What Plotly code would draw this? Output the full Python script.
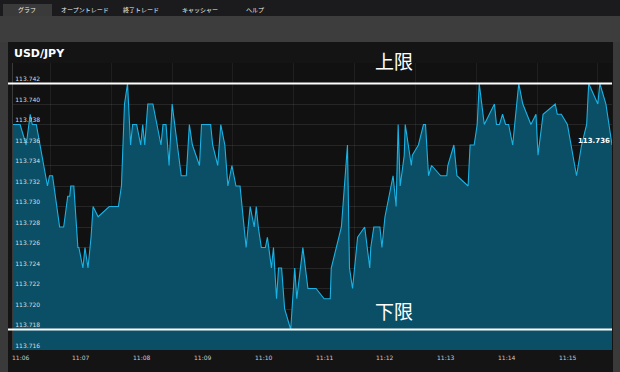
import plotly.graph_objects as go

DATE = "2024-01-01 "
times = [
    "11:05:53", "11:06:00", "11:06:06", "11:06:10", "11:06:12", "11:06:16", "11:06:27", "11:06:29",
    "11:06:32", "11:06:39", "11:06:43", "11:06:47", "11:06:49", "11:06:50", "11:06:53", "11:06:57",
    "11:06:58", "11:07:02", "11:07:04", "11:07:07", "11:07:10", "11:07:12", "11:07:17", "11:07:28",
    "11:07:37", "11:07:40", "11:07:43", "11:07:46", "11:07:49", "11:07:51", "11:07:55", "11:07:59",
    "11:08:01", "11:08:03", "11:08:06", "11:08:11", "11:08:19", "11:08:21", "11:08:24", "11:08:27",
    "11:08:30", "11:08:35", "11:08:39", "11:08:44", "11:08:47", "11:08:50", "11:08:57", "11:08:59",
    "11:09:08", "11:09:10", "11:09:15", "11:09:18", "11:09:22", "11:09:25", "11:09:29", "11:09:33",
    "11:09:37", "11:09:43", "11:09:47", "11:09:51", "11:09:53", "11:09:55", "11:09:58", "11:10:02",
    "11:10:04", "11:10:08", "11:10:10", "11:10:13", "11:10:15", "11:10:18", "11:10:21", "11:10:27",
    "11:10:31", "11:10:33", "11:10:39", "11:10:44", "11:10:52", "11:11:00", "11:11:06", "11:11:07",
    "11:11:17", "11:11:23", "11:11:25", "11:11:28", "11:11:33", "11:11:40", "11:11:45", "11:11:46",
    "11:11:49", "11:11:55", "11:11:57", "11:12:00", "11:12:08", "11:12:11", "11:12:13", "11:12:15",
    "11:12:19", "11:12:20", "11:12:26", "11:12:27", "11:12:33", "11:12:38", "11:12:40", "11:12:43",
    "11:12:46", "11:12:55", "11:13:01", "11:13:02", "11:13:08", "11:13:11", "11:13:22", "11:13:24",
    "11:13:28", "11:13:31", "11:13:33", "11:13:38", "11:13:48", "11:13:50", "11:13:53", "11:13:56",
    "11:13:59", "11:14:02", "11:14:06", "11:14:12", "11:14:16", "11:14:24", "11:14:29", "11:14:31",
    "11:14:36", "11:14:48", "11:14:50", "11:14:54", "11:15:00", "11:15:09", "11:15:14", "11:15:19",
    "11:15:21", "11:15:30", "11:15:32", "11:15:38", "11:15:44",
]
prices = [
    113.738, 113.738, 113.736, 113.739, 113.738, 113.738, 113.732, 113.733,
    113.733, 113.728, 113.728, 113.731, 113.731, 113.732, 113.732, 113.726,
    113.726, 113.724, 113.726, 113.724, 113.727, 113.730, 113.729, 113.730,
    113.730, 113.732, 113.740, 113.742, 113.736, 113.738, 113.738, 113.736,
    113.738, 113.736, 113.740, 113.740, 113.736, 113.738, 113.738, 113.734,
    113.740, 113.736, 113.733, 113.733, 113.738, 113.736, 113.734, 113.738,
    113.738, 113.736, 113.734, 113.738, 113.736, 113.732, 113.734, 113.732,
    113.732, 113.726, 113.730, 113.728, 113.730, 113.728, 113.726, 113.726,
    113.727, 113.724, 113.726, 113.721, 113.724, 113.724, 113.720, 113.718,
    113.724, 113.721, 113.726, 113.722, 113.722, 113.721, 113.721, 113.724,
    113.728, 113.736, 113.724, 113.722, 113.727, 113.728, 113.724, 113.726,
    113.728, 113.728, 113.726, 113.729, 113.733, 113.730, 113.738, 113.732,
    113.735, 113.738, 113.734, 113.735, 113.736, 113.738, 113.738, 113.733,
    113.734, 113.733, 113.733, 113.734, 113.736, 113.733, 113.732, 113.736,
    113.736, 113.738, 113.742, 113.738, 113.740, 113.738, 113.738, 113.739,
    113.738, 113.738, 113.736, 113.742, 113.740, 113.738, 113.739, 113.735,
    113.739, 113.740, 113.739, 113.739, 113.738, 113.733, 113.736, 113.738,
    113.742, 113.740, 113.742, 113.740, 113.736,
]
y_ticks = [113.716, 113.718, 113.720, 113.722, 113.724, 113.726, 113.728,
           113.730, 113.732, 113.734, 113.736, 113.738, 113.740, 113.742]
x_ticks = ["11:06", "11:07", "11:08", "11:09", "11:10", "11:11", "11:12", "11:13", "11:14", "11:15"]
x_grid = ["11:05:30", "11:06:30", "11:07:30", "11:08:30", "11:09:30", "11:10:30",
          "11:11:30", "11:12:30", "11:13:30", "11:14:30", "11:15:30"]
UPPER_LIMIT = 113.742
LOWER_LIMIT = 113.718
pair = "USD/JPY"
menu = ["グラフ", "オープントレード", "終了トレード", "キャッシャー", "ヘルプ"]

W, H = 620, 372
L, R, T, B = 13, 8, 63, 22
PW, PH = W - L - R, H - T - B


def px(x):
    return (x - L) / PW


def py(y):
    return (H - B - y) / PH


xs = [DATE + t for t in times]
fig = go.Figure()
fig.add_trace(go.Scatter(
    x=xs, y=prices, mode="lines", fill="tozeroy",
    line=dict(color="#1ab2e4", width=1.1), fillcolor="#0a4f66",
    hoverinfo="skip", showlegend=False,
))

shapes = []
# page chrome
shapes.append(dict(type="rect", xref="paper", yref="paper", x0=px(0), x1=px(W), y0=py(16), y1=py(0),
                   fillcolor="#1b1b1d", line=dict(width=0), layer="below"))
shapes.append(dict(type="rect", xref="paper", yref="paper", x0=px(3), x1=px(52), y0=py(16), y1=py(4),
                   fillcolor="#3a3a3a", line=dict(width=0), layer="below"))
shapes.append(dict(type="rect", xref="paper", yref="paper", x0=px(0), x1=px(W), y0=py(42), y1=py(16),
                   fillcolor="#3d3d3d", line=dict(width=0), layer="below"))
shapes.append(dict(type="rect", xref="paper", yref="paper", x0=px(0), x1=px(8), y0=py(H), y1=py(42),
                   fillcolor="#3a3a3a", line=dict(width=0), layer="below"))
shapes.append(dict(type="rect", xref="paper", yref="paper", x0=px(613), x1=px(W), y0=py(H), y1=py(42),
                   fillcolor="#3a3a3a", line=dict(width=0), layer="below"))
# limit lines
for v in (UPPER_LIMIT, LOWER_LIMIT):
    shapes.append(dict(type="line", xref="paper", yref="y", x0=px(8), x1=1.0, y0=v, y1=v,
                       line=dict(color="#ffffff", width=2), layer="above"))

annotations = []
menu_x = [27, 85, 141, 200, 255]
for label, mx in zip(menu, menu_x):
    annotations.append(dict(text=label, xref="paper", yref="paper", x=px(mx), y=py(10),
                            showarrow=False, xanchor="center", yanchor="middle",
                            font=dict(family="Noto Sans CJK JP", size=6, color="#eeeeee")))
annotations.append(dict(text="<b>" + pair + "</b>", xref="paper", yref="paper", x=px(12), y=py(53),
                        showarrow=False, xanchor="left", yanchor="middle",
                        font=dict(family="DejaVu Sans", size=11, color="#ffffff")))
annotations.append(dict(text="上限", xref="paper", yref="y", x=px(394), y=UPPER_LIMIT,
                        yshift=8, showarrow=False, xanchor="center", yanchor="bottom",
                        font=dict(family="Noto Sans CJK JP", size=19, color="#ffffff")))
annotations.append(dict(text="下限", xref="paper", yref="y", x=px(394), y=LOWER_LIMIT,
                        yshift=4, showarrow=False, xanchor="center", yanchor="bottom",
                        font=dict(family="Noto Sans CJK JP", size=19, color="#ffffff")))
annotations.append(dict(text="<b>%.3f</b>" % prices[-1], x=xs[-1], y=prices[-1], xref="x", yref="y",
                        showarrow=False, xanchor="right", yanchor="bottom", yshift=-2,
                        font=dict(family="DejaVu Sans", size=7, color="#ffffff")))
# x-axis time labels
for t in x_ticks:
    annotations.append(dict(text=t, x=DATE + t, xref="x", yref="paper", y=0, yshift=-2,
                            showarrow=False, xanchor="center", yanchor="top",
                            font=dict(family="DejaVu Sans", size=6, color="#cccccc")))

fig.update_layout(
    width=W, height=H, margin=dict(l=L, r=R, t=T, b=B),
    paper_bgcolor="#141414", plot_bgcolor="#111111",
    shapes=shapes, annotations=annotations, showlegend=False,
    xaxis=dict(
        type="date", range=[DATE + "11:05:53", DATE + "11:15:44"],
        showticklabels=False,
        showgrid=False, zeroline=False, showline=False, ticks="",
        minor=dict(tickvals=[DATE + t for t in x_grid], showgrid=True,
                   gridcolor="rgba(255,255,255,0.06)", gridwidth=1, ticks=""),
    ),
    yaxis=dict(
        range=[113.716, 113.744], tickvals=y_ticks, tickformat=".3f",
        ticklabelposition="inside top", showgrid=True,
        gridcolor="rgba(255,255,255,0.09)", gridwidth=1, zeroline=False,
        showline=True, linecolor="#3a3a3a", linewidth=1, ticks="",
        tickfont=dict(family="DejaVu Sans", size=6, color="#dddddd"),
    ),
)

fig.write_html(
    "out.html",
    config={"displayModeBar": False},
    post_script="document.body.style.margin='0';document.body.style.overflow='hidden';",
)
